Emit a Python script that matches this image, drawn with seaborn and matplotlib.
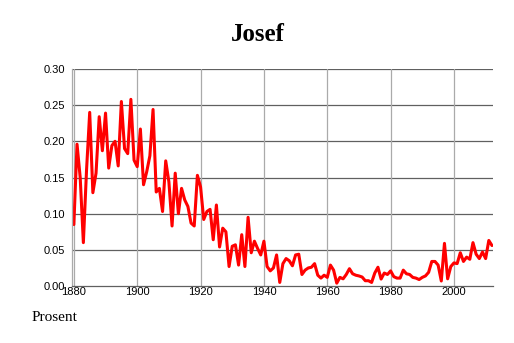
import matplotlib
matplotlib.use("Agg")
import matplotlib.pyplot as plt
import seaborn as sns
import pandas as pd
from matplotlib.ticker import MultipleLocator, FormatStrFormatter

years = list(range(1880, 2013))
values = [
    0.085, 0.196, 0.150, 0.060, 0.160, 0.240, 0.129, 0.156, 0.234, 0.187,  # 1880-1889
    0.239, 0.163, 0.194, 0.200, 0.166, 0.255, 0.190, 0.183, 0.258, 0.174,  # 1890-1899
    0.165, 0.217, 0.140, 0.158, 0.180, 0.244, 0.130, 0.135, 0.103, 0.173,  # 1900-1909
    0.144, 0.083, 0.156, 0.100, 0.135, 0.119, 0.110, 0.087, 0.083, 0.153,  # 1910-1919
    0.137, 0.092, 0.103, 0.106, 0.064, 0.112, 0.054, 0.080, 0.075, 0.027,  # 1920-1929
    0.055, 0.057, 0.029, 0.071, 0.027, 0.095, 0.046, 0.062, 0.052, 0.043,  # 1930-1939
    0.062, 0.027, 0.021, 0.025, 0.043, 0.005, 0.031, 0.038, 0.035, 0.028,  # 1940-1949
    0.043, 0.044, 0.016, 0.022, 0.025, 0.026, 0.031, 0.015, 0.011, 0.015,  # 1950-1959
    0.012, 0.029, 0.022, 0.004, 0.012, 0.010, 0.016, 0.024, 0.017, 0.015,  # 1960-1969
    0.014, 0.0125, 0.0074, 0.0074, 0.005, 0.018, 0.026, 0.0097, 0.018, 0.016,  # 1970-1979
    0.021, 0.013, 0.011, 0.011, 0.022, 0.017, 0.016, 0.012, 0.011, 0.009,  # 1980-1989
    0.012, 0.014, 0.019, 0.034, 0.034, 0.029, 0.007, 0.059, 0.010, 0.027,  # 1990-1999
    0.032, 0.031, 0.046, 0.034, 0.040, 0.037, 0.060, 0.044, 0.038, 0.047,  # 2000-2009
    0.038, 0.063, 0.056,  # 2010-2012
]
title = "Josef"
ylabel_text = "Prosent"

df = pd.DataFrame({"year": years, "value": values})

sns.set_style("white")
plt.rcParams["font.family"] = ["Liberation Sans", "DejaVu Sans"]
plt.rcParams["text.color"] = "black"
plt.rcParams["xtick.color"] = "black"
plt.rcParams["ytick.color"] = "black"

fig = plt.figure(figsize=(5.14, 3.43), dpi=100)
ax = fig.add_axes([0.140, 0.166, 0.819, 0.633])

sns.lineplot(data=df, x="year", y="value", ax=ax, color="#ff0000", linewidth=2.2)

ax.set_xlim(1879.4, 2012.3)
ax.set_ylim(0, 0.30)
ax.xaxis.set_major_locator(MultipleLocator(20))
ax.xaxis.set_minor_locator(MultipleLocator(5))
ax.yaxis.set_major_locator(MultipleLocator(0.05))
ax.yaxis.set_major_formatter(FormatStrFormatter("%.2f"))

ax.grid(False)
for yv in [0.05, 0.10, 0.15, 0.20, 0.25, 0.30]:
    ax.axhline(yv, color="#606060", linewidth=0.9, zorder=0)
for xv in range(1880, 2013, 20):
    ax.axvline(xv, color="#aaaaaa", linewidth=0.9, zorder=0)

for s in ["top", "right"]:
    ax.spines[s].set_visible(False)
ax.spines["left"].set_color("#aaaaaa")
ax.spines["left"].set_linewidth(0.9)
ax.spines["bottom"].set_color("#606060")
ax.spines["bottom"].set_linewidth(0.9)

ax.tick_params(axis="x", which="major", direction="in", length=4, color="#666666",
               labelcolor="black", labelsize=8, pad=1)
ax.tick_params(axis="x", which="minor", direction="in", length=3, color="#666666")
ax.tick_params(axis="y", which="major", length=0, labelsize=8, pad=5,
               labelcolor="black")
ax.set_xlabel("")
ax.set_ylabel("")

fig.text(0.502, 0.90, title, ha="center", va="center", fontsize=18,
         fontweight="bold", color="black",
         family=["Liberation Serif", "DejaVu Serif"])
fig.text(0.062, 0.073, ylabel_text, ha="left", va="center", fontsize=11,
         color="black", family=["Liberation Serif", "DejaVu Serif"])

fig.savefig("out.png", dpi=100)
